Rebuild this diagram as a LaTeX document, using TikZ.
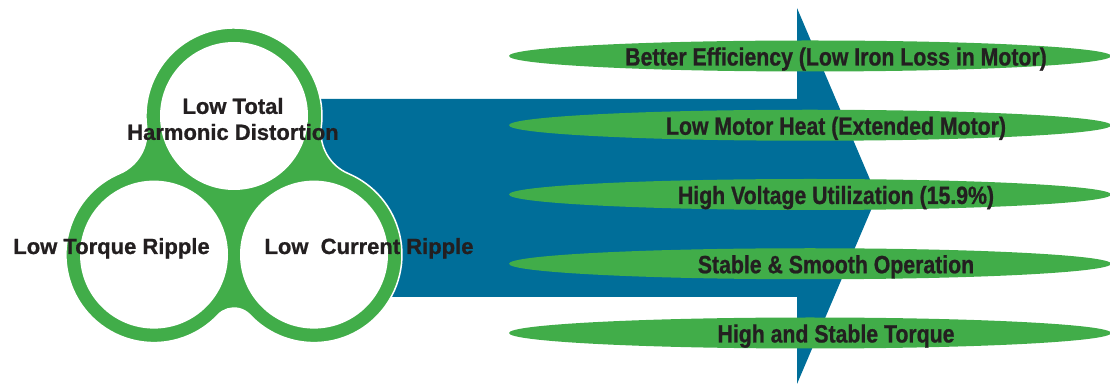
\documentclass[tikz,border=0pt]{standalone}
\usepackage{fontspec}
\setmainfont{Liberation Sans}[BoldFeatures={FakeBold=0.8}]
\newfontfamily\narrowfont{Liberation Sans}[FakeStretch=0.85, BoldFeatures={FakeBold=0.8}]
\usetikzlibrary{calc, shapes.geometric}
\definecolor{mgreen}{RGB}{65,173,73}
\definecolor{mblue}{RGB}{0,110,153}
\definecolor{mtext}{RGB}{35,31,32}

\begin{document}
\begin{tikzpicture}[x=1pt, y=1pt,
    hole/.style={circle, fill=white, inner sep=0pt, minimum size=148pt},
    circtext/.style={text=mtext, font=\fontsize{22}{26}\selectfont\bfseries, align=center},
    benefit/.style={ellipse, fill=mgreen, inner sep=0pt, minimum width=602pt, minimum height=31pt},
    benefittext/.style={anchor=base, text=mtext, font=\narrowfont\fontsize{25}{29}\selectfont\bfseries},
]
\useasboundingbox (0,0) rectangle (1110,385);

\coordinate (topc) at (234,269);
\coordinate (leftc) at (154,130.4);
\coordinate (rightc) at (314,130.4);

% big arrow behind everything
\fill[mblue] (310,286) -- (797,286) -- (797,377) -- (877,189) -- (797,1) -- (797,88) -- (310,88) -- cycle;

% three rings joined by fillets
\filldraw[fill=mgreen, draw=white, line width=1.5pt]
    ($(rightc)+(-136.7:88)$) arc[start angle=-136.7, end angle=67, radius=88]
    arc[start angle=247, end angle=173, radius=45]
    arc[start angle=-7, end angle=187, radius=88]
    arc[start angle=7, end angle=-67, radius=45]
    arc[start angle=113, end angle=316.7, radius=88]
    arc[start angle=136.7, end angle=43.3, radius=22] -- cycle;

\node[hole] (thdhole) at (topc) {};
\node[hole] (torquehole) at (leftc) {};
\node[hole] (currenthole) at (rightc) {};

\node[circtext] (thd) at (233,266) {Low Total\\Harmonic Distortion};
\node[circtext, anchor=base] (torque) at (111.5,131) {Low Torque Ripple};
\node[circtext, anchor=base] (current) at (369,131) {Low~~Current Ripple};

\foreach \txt [count=\i] in {Better Efficiency (Low Iron Loss in Motor), Low Motor Heat (Extended Motor), High Voltage Utilization (15.9\%), Stable \& Smooth Operation, High and Stable Torque}{
  \node[benefit] (ell\i) at (810,{329-69.25*(\i-1)}) {};
  \node[benefittext] (ben\i) at ([xshift=26pt, yshift=-9.5pt]ell\i.center) {\txt};
}

\end{tikzpicture}
\end{document}
